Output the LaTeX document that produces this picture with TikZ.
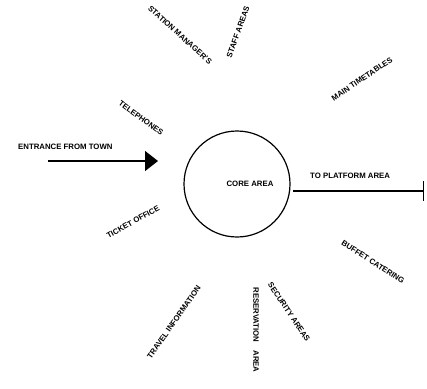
\documentclass[tikz,border=0pt]{standalone}
\usepackage{fontspec}
\setmainfont{Liberation Sans}
\newfontfamily\lblfont{Liberation Sans Bold}
\usetikzlibrary{arrows.meta}
\tikzset{
  lbl/.style={inner sep=0pt, font=\lblfont\fontsize{7.8}{9}\selectfont},
  conn/.style={line width=1.3pt},
}
\begin{document}
\begin{tikzpicture}[x=1pt,y=-1pt]
\useasboundingbox[fill=white] (0,0) rectangle (427,388);
% core
\node[draw, circle, line width=1.2pt, minimum size=106pt, inner sep=0pt] (core) at (237,184) {};
\node[lbl] (corelbl) at (250,184) {CORE AREA};
% entrance
\node[lbl, anchor=west] (entr) at (18,147) {ENTRANCE FROM TOWN};
\coordinate (ein) at (48,161);
\coordinate (eout) at (158,161);
\draw[conn, -{Triangle[length=13pt,width=20pt]}] (ein) -- (eout);
% platform
\node[lbl, anchor=west] (plat) at (310,176) {TO PLATFORM AREA};
\coordinate (pin) at (293,191);
\coordinate (pout) at (424,191);
\draw[conn, -{Bar[width=20pt,line width=1.3pt]}] (pin) -- (pout);
% radial labels
\node[lbl, rotate=-42] (mgr) at (180,35) {STATION MANAGER'S};
\node[lbl, rotate=70] (staff) at (238,32) {STAFF AREAS};
\node[lbl, rotate=34] (tt) at (362,79) {MAIN TIMETABLES};
\node[lbl, rotate=-36] (tel) at (141,118) {TELEPHONES};
\node[lbl, rotate=29] (tick) at (133,222) {TICKET OFFICE};
\node[lbl, rotate=55] (trav) at (174,322) {TRAVEL INFORMATION};
\node[lbl, rotate=-90] (resv) at (256,330) {RESERVATION\quad AREA};
\node[lbl, rotate=-56] (sec) at (289,312) {SECURITY AREAS};
\node[lbl, rotate=-33] (buf) at (373,262) {BUFFET CATERING};
\end{tikzpicture}
\end{document}
